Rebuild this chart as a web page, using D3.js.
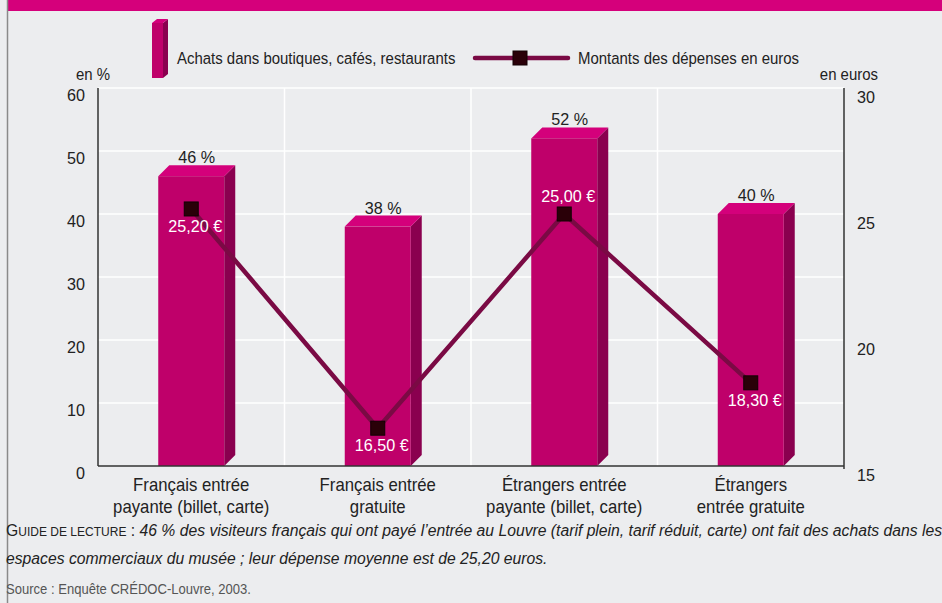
<!DOCTYPE html>
<html lang="fr">
<head>
<meta charset="UTF-8">
<title>Achats et dépenses - Louvre</title>
<script src="https://cdnjs.cloudflare.com/ajax/libs/d3/7.8.5/d3.min.js"></script>
<style>
    body { margin: 0; background: #ecedef; }
    svg { display: block; font-family: "Liberation Sans", Arial, sans-serif; }
    .lbl { font-size: 17px; fill: #222; }
    .cat { font-size: 18px; fill: #222; }
    .eur { font-size: 17px; fill: #fff; }
    .guide { font-size: 17px; fill: #222; }
    .src { font-size: 15px; fill: #555; }
</style>
</head>
<body>
<div id="chart"></div>
<script>
// data
const categories = [
    ["Français entrée", "payante (billet, carte)"],
    ["Français entrée", "gratuite"],
    ["Étrangers entrée", "payante (billet, carte)"],
    ["Étrangers", "entrée gratuite"]
];
const achats = [46, 38, 52, 40];               // %
const depenses = [25.20, 16.50, 25.00, 18.30]; // euros
const labelAbove = [false, false, true, false];
const leftTicks = [0, 10, 20, 30, 40, 50, 60];
const rightTicks = [15, 20, 25, 30];

const W = 942, H = 603;
const margin = {left: 98, right: 98, top: 88, bottom: 137};
const plotW = W - margin.left - margin.right;
const plotH = H - margin.top - margin.bottom;

const front = "#bf006a", top3d = "#d4007b", side = "#8a004f";
const lineCol = "#7a0a44", markCol = "#2a0008";
const depth = 11;
const SX = 0.88; // condensed look

// text drawn inside a horizontally squeezed group
function ctext(parent, x, y, str, cls, anchor, sx) {
    const t = parent.append("g")
        .attr("transform", `translate(${x},${y}) scale(${sx || SX},1)`)
        .append("text").attr("class", cls).attr("text-anchor", anchor || "start");
    if (str !== null) t.text(str);
    return t;
}

const svg = d3.select("#chart").append("svg")
    .attr("width", W).attr("height", H);

svg.append("rect").attr("width", W).attr("height", H).attr("fill", "#ecedef");
svg.append("rect").attr("x", 8).attr("y", 0).attr("width", W - 8).attr("height", 11).attr("fill", "#d5007b");
svg.append("line").attr("x1", 7.5).attr("x2", 7.5).attr("y1", 0).attr("y2", H)
    .attr("stroke", "#8a8a8a").attr("stroke-width", 1.5);

const g = svg.append("g").attr("transform", `translate(${margin.left},${margin.top})`);

const x = d3.scaleBand().domain(d3.range(categories.length)).range([0, plotW]);
const yL = d3.scaleLinear().domain([0, 60]).range([plotH, 0]);
const yR = d3.scaleLinear().domain([15, 30]).range([plotH, 0]);
const cx = i => x(i) + x.bandwidth() / 2;

// grid
g.selectAll(".hgrid").data(leftTicks.filter(d => d > 0)).enter().append("line")
    .attr("x1", 0).attr("x2", plotW)
    .attr("y1", d => yL(d)).attr("y2", d => yL(d))
    .attr("stroke", "#fff").attr("stroke-width", 1.5);
g.selectAll(".vgrid").data(d3.range(1, categories.length)).enter().append("line")
    .attr("x1", d => x(d)).attr("x2", d => x(d))
    .attr("y1", 0).attr("y2", plotH)
    .attr("stroke", "#fff").attr("stroke-width", 1.5);

// 3D bars
const barW = 66;
achats.forEach((v, i) => {
    const b = g.append("g");
    const x0 = cx(i) - barW / 2, x1 = x0 + barW;
    const y0 = yL(v), yb = yL(0);
    b.append("polygon")
        .attr("points", [[x1, y0], [x1 + depth, y0 - depth], [x1 + depth, yb - depth], [x1, yb]].join(" "))
        .attr("fill", side);
    b.append("polygon")
        .attr("points", [[x0, y0], [x0 + depth, y0 - depth], [x1 + depth, y0 - depth], [x1, y0]].join(" "))
        .attr("fill", top3d);
    b.append("rect").attr("x", x0).attr("y", y0).attr("width", barW).attr("height", yb - y0)
        .attr("fill", front);
    ctext(g, cx(i) + depth / 2, y0 - depth - 2, v + " %", "lbl", "middle", 0.95);
});

// axes lines
g.append("line").attr("x1", 0).attr("x2", 0).attr("y1", 0).attr("y2", plotH).attr("stroke", "#333").attr("stroke-width", 1.5);
g.append("line").attr("x1", plotW).attr("x2", plotW).attr("y1", 0).attr("y2", plotH + 3).attr("stroke", "#333").attr("stroke-width", 1.5);
g.append("line").attr("x1", 0).attr("x2", plotW).attr("y1", plotH).attr("y2", plotH).attr("stroke", "#333").attr("stroke-width", 1.5);

// tick labels
leftTicks.forEach(d => ctext(g, -13, yL(d) + 13, d, "lbl", "end", 0.95));
rightTicks.forEach(d => ctext(g, plotW + 13, yR(d) + 15, d, "lbl", "start", 0.95));
ctext(g, 12, -8, "en %", "lbl", "end");
ctext(g, plotW + 34, -8, "en euros", "lbl", "end");

// category labels
categories.forEach((c, i) => {
    c.forEach((line, k) => ctext(g, cx(i), plotH + 25 + k * 22, line, "cat", "middle", 0.93));
});

// euros line
const fmt = d3.formatLocale({decimal: ",", thousands: " ", grouping: [3], currency: ["", " €"]}).format("$.2f");
const line = d3.line().x((d, i) => cx(i)).y(d => yR(d));
g.append("path").datum(depenses).attr("d", line)
    .attr("fill", "none").attr("stroke", lineCol).attr("stroke-width", 4.5);
g.selectAll(".mk").data(depenses).enter().append("rect")
    .attr("x", (d, i) => cx(i) - 7).attr("y", d => yR(d) - 7)
    .attr("width", 14).attr("height", 14)
    .attr("fill", markCol).attr("stroke", "#120003").attr("stroke-width", 1);
depenses.forEach((d, i) => {
    ctext(g, cx(i) + 4, labelAbove[i] ? yR(d) - 12 : yR(d) + 23, fmt(d), "eur", "middle", 0.95);
});

// legend
const lg = svg.append("g");
lg.append("polygon").attr("points", [[163, 23], [168, 19], [168, 74], [163, 78]].join(" ")).attr("fill", side);
lg.append("polygon").attr("points", [[152, 23], [157, 19], [168, 19], [163, 23]].join(" ")).attr("fill", top3d);
lg.append("rect").attr("x", 152).attr("y", 23).attr("width", 11).attr("height", 55).attr("fill", front);
ctext(lg, 177, 64, "Achats dans boutiques, cafés, restaurants", "lbl", "start");
lg.append("line").attr("x1", 475).attr("x2", 568).attr("y1", 58).attr("y2", 58)
    .attr("stroke", lineCol).attr("stroke-width", 4.5).attr("stroke-linecap", "round");
lg.append("rect").attr("x", 513).attr("y", 51).attr("width", 14).attr("height", 14)
    .attr("fill", markCol).attr("stroke", "#120003");
ctext(lg, 578, 64, "Montants des dépenses en euros", "lbl", "start");

// reading guide and source
const guide = ctext(svg, 6, 536, null, "guide", "start", 0.925);
guide.append("tspan").text("G");
guide.append("tspan").attr("font-size", 13).text("UIDE DE LECTURE");
guide.append("tspan").text(" : ");
guide.append("tspan").attr("font-style", "italic")
    .text("46 % des visiteurs français qui ont payé l’entrée au Louvre (tarif plein, tarif réduit, carte) ont fait des achats dans les");
ctext(svg, 6, 564, "espaces commerciaux du musée ; leur dépense moyenne est de 25,20 euros.", "guide", "start", 0.925)
    .attr("font-style", "italic");
ctext(svg, 6, 594, "Source : Enquête CRÉDOC-Louvre, 2003.", "src", "start", 0.87);
</script>
</body>
</html>
